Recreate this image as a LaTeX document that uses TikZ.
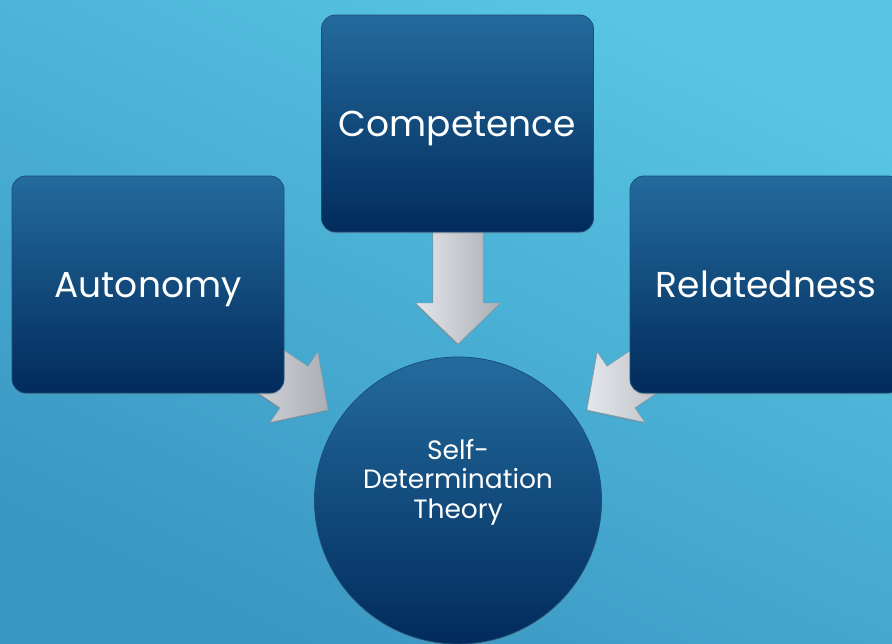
\documentclass[tikz,border=0pt]{standalone}
\usepackage{fontspec}
\setmainfont{Poppins}
\usetikzlibrary{shadows}
\definecolor{bgtop}{HTML}{58C6E4}
\definecolor{bgbot}{HTML}{3A96C2}
\definecolor{boxtop}{HTML}{246B9D}
\definecolor{boxbot}{HTML}{012B5C}
\definecolor{boxline}{HTML}{1A4F7A}
\definecolor{arrlight}{HTML}{E4E6EA}
\definecolor{arrdark}{HTML}{ABAEB5}
\tikzset{
  blockbox/.style={rectangle, rounded corners=14pt, minimum width=272pt,
    minimum height=217pt, inner sep=0pt, top color=boxtop, bottom color=boxbot,
    draw=boxline, line width=0.8pt, text=white,
    font=\fontsize{36}{40}\selectfont, text height=25.5pt, text depth=0pt,
    drop shadow={shadow xshift=0pt, shadow yshift=-1.5pt, opacity=0.3}},
  hubcircle/.style={circle, minimum size=287pt, inner sep=0pt,
    top color=boxtop, bottom color=boxbot, draw=boxline, line width=0.8pt,
    drop shadow={shadow xshift=0pt, shadow yshift=-1.5pt, opacity=0.3}},
  hubtext/.style={text=white, align=center,
    font=\fontsize{26.5}{29.5}\selectfont, inner sep=0pt},
  blockarrow/.style={left color=arrlight, right color=arrdark,
    draw=arrdark!85!black, line width=0.4pt,
    drop shadow={shadow xshift=-1pt, shadow yshift=-1.5pt, opacity=0.35}}
}
\begin{document}
\begin{tikzpicture}[x=1pt,y=-1pt]
  \useasboundingbox (0,0) rectangle (892,643);
  \clip (0,0) rectangle (892,643);
  \fill[top color=bgtop, bottom color=bgbot, shading angle=-25]
    (0,0) rectangle (892,643);

  % hub and arrow tip coordinates
  \coordinate (hubc) at (458,500.5);
  \coordinate (tipC) at (458,344);
  \coordinate (tipA) at (328,410);
  \coordinate (tipR) at (587,410);

  % block arrows (drawn under the boxes)
  \begin{scope}[shift={(tipA)}, rotate=-34]
    \path[blockarrow] (0,0) -- (-41,-42.5) -- (-41,-25) -- (-120,-25)
      -- (-120,25) -- (-41,25) -- (-41,42.5) -- cycle;
  \end{scope}
  \begin{scope}[shift={(tipR)}, rotate=-146]
    \path[blockarrow] (0,0) -- (-41,-42.5) -- (-41,-25) -- (-120,-25)
      -- (-120,25) -- (-41,25) -- (-41,42.5) -- cycle;
  \end{scope}
  \begin{scope}[shift={(tipC)}, rotate=-90]
    \path[blockarrow] (0,0) -- (-41,-42.5) -- (-41,-25) -- (-120,-25)
      -- (-120,25) -- (-41,25) -- (-41,42.5) -- cycle;
  \end{scope}

  % boxes
  \node[blockbox] (auto) at (148,284.5) {Autonomy};
  \node[blockbox] (comp) at (457.5,123.5) {Competence};
  \node[blockbox] (rel) at (766,284.5) {Relatedness};

  % hub circle
  \node[hubcircle] (hub) at (hubc) {};
  \node[hubtext, anchor=base] (hubt) at (458,518) {Self-\\Determination\\Theory};
\end{tikzpicture}
\end{document}
